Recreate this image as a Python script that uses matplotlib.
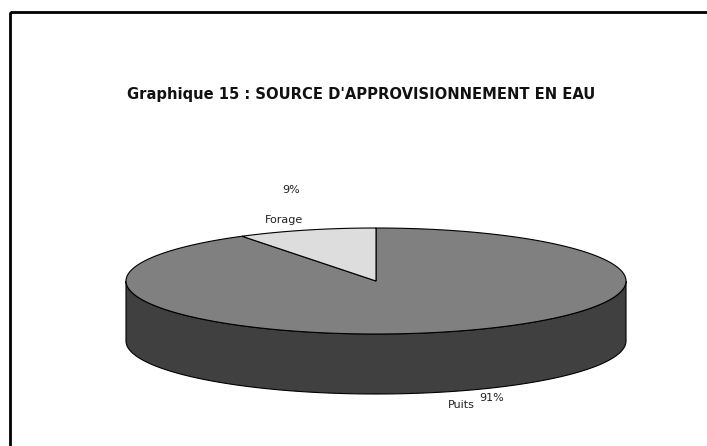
import numpy as np
import matplotlib.pyplot as plt
from matplotlib.patches import Polygon, Rectangle

labels = ['Puits', 'Forage']
values = [91, 9]
pct_labels = ['91%', '9%']
top_colors = ['#808080', '#dddddd']
side_colors = ['#404040', '#b0b0b0']
title = "Graphique 15 : SOURCE D'APPROVISIONNEMENT EN EAU"

plt.rcParams['font.family'] = ['DejaVu Sans']

fig = plt.figure(figsize=(7.07, 4.46), dpi=100)
ax = fig.add_axes([0, 0, 1, 1])
ax.set_xlim(0, 707)
ax.set_ylim(446, 0)
ax.axis('off')

# outer chart frame (runs off the right/bottom edge like the source)
ax.add_patch(Rectangle((10, 12), 720, 460, fill=False, lw=2, ec='black'))

# ellipse geometry in pixels
cx, cy, a, b, depth = 376, 281, 250, 53, 60


def pt(theta):
    return cx + a * np.cos(theta), cy - b * np.sin(theta)


fracs = np.array(values) / np.sum(values)
start = np.pi / 2
angles = []
for f in fracs:
    end = start - f * 2 * np.pi
    angles.append((start, end))
    start = end

# side walls (only the front half, sin < 0)
for (t0, t1), sc in zip(angles, side_colors):
    lo, hi = min(t0, t1), max(t0, t1)
    segs = []
    for k in range(-2, 2):
        s0 = max(lo, np.pi + 2 * np.pi * k)
        s1 = min(hi, 2 * np.pi + 2 * np.pi * k)
        if s1 > s0:
            segs.append((s0, s1))
    for s0, s1 in segs:
        th = np.linspace(s0, s1, 200)
        xs, ys = pt(th)
        poly = np.vstack([np.column_stack([xs, ys]),
                          np.column_stack([xs[::-1], ys[::-1] + depth])])
        ax.add_patch(Polygon(poly, closed=True, fc=sc, ec='black', lw=0.8))

# top faces
for (t0, t1), tc in zip(angles, top_colors):
    th = np.linspace(t0, t1, 300)
    xs, ys = pt(th)
    poly = np.vstack([[cx, cy], np.column_stack([xs, ys])])
    ax.add_patch(Polygon(poly, closed=True, fc=tc, ec='black', lw=0.8))

ax.text(361, 95, title, ha='center', va='center', fontsize=10.6,
        fontweight='bold', color='#111111')

# data labels
lab_kw = dict(ha='center', va='center', fontsize=8, color='#222222')
ax.text(461, 405, labels[0], **lab_kw)
ax.text(492, 398, pct_labels[0], **lab_kw)
ax.text(284, 220, labels[1], **lab_kw)
ax.text(291, 190, pct_labels[1], **lab_kw)

fig.savefig('out.png', dpi=100)
